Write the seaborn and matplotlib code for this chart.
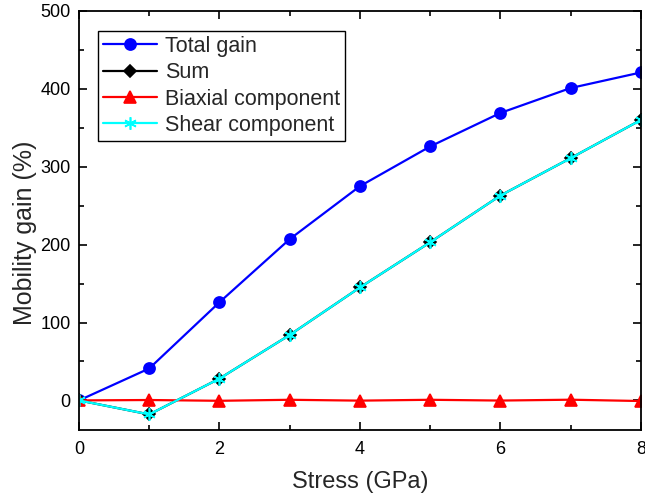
import matplotlib
matplotlib.use("Agg")
import matplotlib.pyplot as plt
from matplotlib.ticker import MultipleLocator
import seaborn as sns
import pandas as pd

stress = [0, 1, 2, 3, 4, 5, 6, 7, 8]
total_gain = [0, 41, 126, 207, 275, 326, 369, 401, 421]
sum_gain = [0, -18, 28, 84, 145, 203, 263, 311, 360]
biaxial = [0, 0.5, -0.5, 0.8, -0.3, 0.8, -0.2, 0.9, -0.8]
shear = [0, -18, 28, 84, 145, 203, 263, 311, 360]

labels = ["Total gain", "Sum", "Biaxial component", "Shear component"]
series = [total_gain, sum_gain, biaxial, shear]
colors = ["#0000ff", "#000000", "#ff0000", "#00ffff"]
markers = ["o", "D", "^", (6, 2, 0)]
msizes = [8, 6, 8, 9]

sns.set_style("ticks")
plt.rcParams["font.family"] = ["Liberation Sans", "DejaVu Sans"]

fig = plt.figure(figsize=(6.45, 4.97), dpi=100)
ax = fig.add_axes([0.1225, 0.1348, 0.871, 0.8432])

for lab, vals, col, mk, ms in zip(labels, series, colors, markers, msizes):
    df = pd.DataFrame({"Stress": stress, "Gain": vals})
    sns.lineplot(data=df, x="Stress", y="Gain", ax=ax, color=col, marker=mk,
                 markersize=ms, linewidth=1.6, markeredgecolor=col,
                 markeredgewidth=1.2, label=lab)

ax.set_xlim(0, 8)
ax.set_ylim(-38, 500)
ax.xaxis.set_major_locator(MultipleLocator(2))
ax.xaxis.set_minor_locator(MultipleLocator(1))
ax.yaxis.set_major_locator(MultipleLocator(100))
ax.yaxis.set_minor_locator(MultipleLocator(50))
ax.tick_params(which="both", direction="in", top=True, right=True,
               width=1.2, colors="black", labelsize=13)
ax.tick_params(which="major", length=6)
ax.tick_params(which="minor", length=3.5)
ax.tick_params(axis="x", pad=8)
ax.tick_params(axis="y", pad=6)
for sp in ax.spines.values():
    sp.set_linewidth(1.3)
    sp.set_color("black")

ax.set_xlabel("Stress (GPa)", fontsize=17, labelpad=9)
ax.set_ylabel("Mobility gain (%)", fontsize=18)
ax.yaxis.set_label_coords(-0.075, 0.47)

leg = ax.legend(loc="upper left", bbox_to_anchor=(0.034, 0.952), fontsize=15.5,
                frameon=True, fancybox=False, edgecolor="black",
                borderaxespad=0, handlelength=2.5, handletextpad=0.4,
                borderpad=0.22, labelspacing=0.25)
leg.get_frame().set_linewidth(1.0)
leg.get_frame().set_alpha(1)

fig.savefig("out.png", dpi=100)
